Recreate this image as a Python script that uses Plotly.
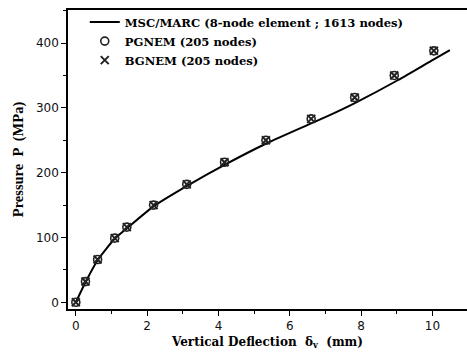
import plotly.graph_objects as go

# MSC/MARC reference curve
marc_x = [0.0, 0.27, 0.61, 1.09, 1.43, 2.18, 3.13, 4.17, 5.34, 6.60, 7.09, 7.81, 9.04, 10.04, 10.49]
marc_p = [0, 31, 65, 98, 114, 148, 180, 212, 245, 276, 288, 307, 343, 375, 389]

# Meshfree results (both methods give the same points)
node_x = [0.0, 0.27, 0.61, 1.09, 1.43, 2.18, 3.11, 4.17, 5.33, 6.60, 7.82, 8.93, 10.04]
pg_p = [0, 32, 66, 99, 116, 150, 182, 216, 250, 283, 316, 350, 388]
bg_p = [0, 32, 66, 99, 116, 150, 182, 216, 250, 283, 316, 350, 388]

x_ticks = [0, 2, 4, 6, 8, 10]
y_ticks = [0, 100, 200, 300, 400]

serif_wide = "DejaVu Serif, serif"
serif = "Liberation Serif, Times New Roman, serif"
sans = "DejaVu Sans, Arial, sans-serif"

fig = go.Figure()
fig.add_trace(go.Scatter(
    x=marc_x, y=marc_p, mode="lines", name="<b>MSC/MARC (8-node element ; 1613 nodes)</b>",
    line=dict(color="black", width=2, shape="spline", smoothing=0.6)))
fig.add_trace(go.Scatter(
    x=node_x, y=pg_p, mode="markers", name="<b>PGNEM (205 nodes)</b>",
    marker=dict(symbol="circle-open", size=8, color="#222", line=dict(width=1.6, color="#222"))))
fig.add_trace(go.Scatter(
    x=node_x, y=bg_p, mode="markers", name="<b>BGNEM (205 nodes)</b>",
    marker=dict(symbol="x-thin-open", size=8, color="#222", line=dict(width=2, color="#222"))))

fig.update_layout(
    width=467, height=354,
    margin=dict(l=68, r=0, t=10, b=45),
    paper_bgcolor="white", plot_bgcolor="white",
    showlegend=True,
    legend=dict(x=0.042, y=1.008, xanchor="left", yanchor="top",
                bgcolor="rgba(0,0,0,0)", tracegroupgap=0,
                font=dict(family=serif_wide, size=11.6, color="black"),
                traceorder="normal"),
    font=dict(family=sans, size=12, color="#111"),
)
fig.update_xaxes(
    range=[-0.22, 10.97], tickvals=x_ticks, ticktext=[str(v) for v in x_ticks],
    showgrid=False, zeroline=False, showline=True, linecolor="black", linewidth=1.5,
    mirror=True, ticks="outside", ticklen=5, tickwidth=1, tickcolor="black",
    minor=dict(dtick=1, ticks="outside", ticklen=3, tickcolor="black"),
    tickfont=dict(family=sans, size=12, color="#111"),
    title=dict(text="<b>Vertical Deflection  δ<sub>v</sub>  (mm)</b>",
               font=dict(family=serif_wide, size=12, color="black"), standoff=5),
)
fig.update_yaxes(
    range=[-10.3, 451], tickvals=y_ticks, ticktext=[str(v) for v in y_ticks],
    showgrid=False, zeroline=False, showline=True, linecolor="black", linewidth=1.5,
    ticks="outside", ticklen=5, tickwidth=1, tickcolor="black",
    minor=dict(dtick=50, ticks="outside", ticklen=3, tickcolor="black"),
    tickfont=dict(family=sans, size=12, color="#111"),
    title=dict(text="<b>Pressure  P  (MPa)</b>",
               font=dict(family=serif, size=14.5, color="black"), standoff=9),
)

fig.write_html("out.html")
